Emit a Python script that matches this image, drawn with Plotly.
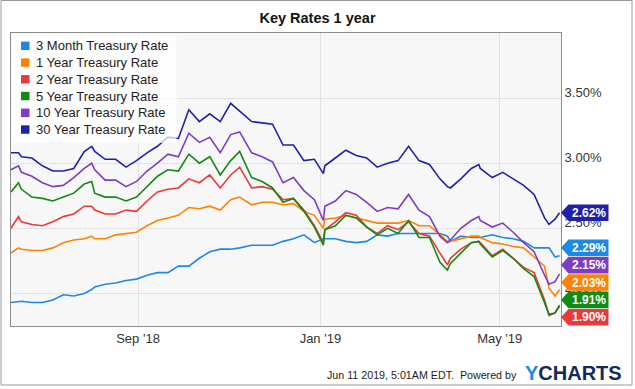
import plotly.graph_objects as go

# ---------------- data ----------------
dates = ["2018-06-08", "2018-06-13", "2018-06-15", "2018-06-22", "2018-06-29", "2018-07-06",
         "2018-07-13", "2018-07-20", "2018-07-27", "2018-08-01", "2018-08-03", "2018-08-10",
         "2018-08-17", "2018-08-24", "2018-08-31", "2018-09-07", "2018-09-14", "2018-09-21",
         "2018-09-28", "2018-10-05", "2018-10-12", "2018-10-19", "2018-10-26", "2018-11-02",
         "2018-11-08", "2018-11-16", "2018-11-23", "2018-11-30", "2018-12-07", "2018-12-14",
         "2018-12-21", "2018-12-28", "2019-01-03", "2019-01-04", "2019-01-11", "2019-01-18",
         "2019-01-25", "2019-02-01", "2019-02-08", "2019-02-15", "2019-02-22", "2019-03-01",
         "2019-03-08", "2019-03-15", "2019-03-22", "2019-03-27", "2019-03-29", "2019-04-05",
         "2019-04-12", "2019-04-17", "2019-04-18", "2019-04-26", "2019-05-03", "2019-05-10",
         "2019-05-17", "2019-05-24", "2019-05-31", "2019-06-03", "2019-06-07", "2019-06-10"]

rate_3m = [1.93, 1.94, 1.94, 1.93, 1.93, 1.95,
           1.99, 1.98, 2.00, 2.03, 2.05, 2.07,
           2.08, 2.10, 2.11, 2.14, 2.16, 2.16,
           2.21, 2.21, 2.27, 2.32, 2.34, 2.34,
           2.35, 2.37, 2.37, 2.37, 2.40, 2.42,
           2.45, 2.39, 2.42, 2.42, 2.42, 2.40,
           2.39, 2.40, 2.45, 2.44, 2.46, 2.46,
           2.46, 2.46, 2.46, 2.44, 2.40, 2.44,
           2.43, 2.43, 2.43, 2.45, 2.43, 2.42,
           2.40, 2.35, 2.35, 2.35, 2.28, 2.29]

rate_1y = [2.31, 2.35, 2.34, 2.33, 2.33, 2.35,
           2.39, 2.41, 2.42, 2.44, 2.42, 2.42,
           2.45, 2.46, 2.47, 2.52, 2.56, 2.58,
           2.60, 2.66, 2.65, 2.67, 2.64, 2.72,
           2.74, 2.68, 2.70, 2.70, 2.68, 2.69,
           2.63, 2.60, 2.50, 2.57, 2.58, 2.60,
           2.58, 2.56, 2.54, 2.54, 2.54, 2.56,
           2.52, 2.52, 2.45, 2.40, 2.40, 2.42,
           2.44, 2.44, 2.43, 2.39, 2.38, 2.36,
           2.35, 2.28, 2.21, 2.04, 1.98, 2.03]

rate_2y = [2.50, 2.59, 2.55, 2.53, 2.52, 2.55,
           2.59, 2.61, 2.67, 2.67, 2.64, 2.61,
           2.61, 2.64, 2.63, 2.71, 2.78, 2.80,
           2.81, 2.88, 2.85, 2.91, 2.81, 2.91,
           2.97, 2.81, 2.82, 2.80, 2.72, 2.73,
           2.64, 2.52, 2.39, 2.49, 2.55, 2.62,
           2.60, 2.51, 2.46, 2.52, 2.49, 2.55,
           2.46, 2.44, 2.31, 2.22, 2.27, 2.34,
           2.39, 2.40, 2.39, 2.29, 2.34, 2.27,
           2.20, 2.16, 1.95, 1.83, 1.85, 1.90]

rate_5y = [2.78, 2.85, 2.80, 2.74, 2.73, 2.71,
           2.74, 2.77, 2.84, 2.86, 2.77, 2.74,
           2.74, 2.71, 2.74, 2.82, 2.90, 2.95,
           2.94, 3.07, 3.00, 3.05, 2.91, 3.02,
           3.09, 2.89, 2.86, 2.81, 2.70, 2.73,
           2.63, 2.51, 2.37, 2.49, 2.52, 2.60,
           2.58, 2.51, 2.45, 2.50, 2.46, 2.56,
           2.43, 2.43, 2.24, 2.18, 2.23, 2.31,
           2.39, 2.40, 2.38, 2.28, 2.33, 2.27,
           2.19, 2.13, 1.93, 1.84, 1.85, 1.91]

rate_10y = [2.95, 2.98, 2.93, 2.90, 2.85, 2.82,
            2.83, 2.89, 2.96, 3.00, 2.95, 2.87,
            2.87, 2.82, 2.86, 2.94, 3.00, 3.07,
            3.05, 3.23, 3.16, 3.20, 3.08, 3.22,
            3.24, 3.08, 3.05, 3.01, 2.85, 2.89,
            2.79, 2.72, 2.56, 2.67, 2.71, 2.79,
            2.76, 2.70, 2.63, 2.66, 2.65, 2.76,
            2.64, 2.59, 2.44, 2.39, 2.41, 2.50,
            2.56, 2.59, 2.56, 2.51, 2.54, 2.47,
            2.39, 2.32, 2.14, 2.07, 2.09, 2.15]

rate_30y = [3.08, 3.08, 3.05, 3.04, 2.98, 2.94,
            2.94, 2.96, 3.09, 3.13, 3.09, 3.03,
            3.03, 2.97, 3.02, 3.08, 3.13, 3.20,
            3.19, 3.41, 3.32, 3.38, 3.32, 3.46,
            3.40, 3.32, 3.31, 3.30, 3.14, 3.14,
            3.02, 3.03, 2.92, 2.98, 3.04, 3.10,
            3.06, 3.04, 2.97, 3.00, 3.02, 3.13,
            3.02, 2.99, 2.88, 2.82, 2.81, 2.88,
            2.96, 2.99, 2.96, 2.89, 2.93, 2.88,
            2.83, 2.76, 2.58, 2.53, 2.57, 2.62]

series_names = ["3 Month Treasury Rate", "1 Year Treasury Rate", "2 Year Treasury Rate",
                "5 Year Treasury Rate", "10 Year Treasury Rate", "30 Year Treasury Rate"]
series_values = [rate_3m, rate_1y, rate_2y, rate_5y, rate_10y, rate_30y]
series_colors = ["#1e88e5", "#ff8200", "#e8393b", "#138a13", "#7e3dbf", "#2121a8"]

x_tick_vals = ["2018-09-01", "2019-01-01", "2019-05-01"]
x_tick_text = ["Sep '18", "Jan '19", "May '19"]
y_tick_vals = [2.0, 2.5, 3.0, 3.5]
y_tick_text = ["2.00%", "2.50%", "3.00%", "3.50%"]

title_text = "Key Rates 1 year"
footer_text = "Jun 11 2019, 5:01AM EDT.&nbsp;&nbsp;Powered by"

# ---------------- layout geometry ----------------
W, H = 635, 389
ML, MR, MT, MB = 11, 74, 33, 63
PW = W - ML - MR
PH = H - MT - MB
Y_MIN, Y_MAX = 1.75, 4.0
X_RANGE = ["2018-06-08", "2019-06-11"]
FONT = "Liberation Sans, Arial, Helvetica, sans-serif"


def fx(px):
    return (px - ML) / PW


def fy(py):
    return (H - MB - py) / PH


def val_to_py(v):
    return MT + (Y_MAX - v) / (Y_MAX - Y_MIN) * PH


def py_to_val(py):
    return Y_MAX - (py - MT) / PH * (Y_MAX - Y_MIN)


fig = go.Figure()
for name, vals, color in zip(series_names, series_values, series_colors):
    fig.add_trace(go.Scatter(x=dates, y=vals, mode="lines", name=name,
                             line=dict(color=color, width=1.6), showlegend=False))

shapes = []
annotations = []

# outer frame
shapes.append(dict(type="rect", xref="paper", yref="paper", x0=fx(1), x1=fx(632),
                   y0=fy(385), y1=fy(0.5), line=dict(color="#9a9a9a", width=1),
                   fillcolor="rgba(0,0,0,0)", layer="above"))

# legend (semi-transparent box, square swatches, labels)
shapes.append(dict(type="rect", xref="paper", yref="paper", x0=fx(11.5), x1=fx(176.5),
                   y0=fy(143), y1=fy(33.5), line=dict(width=0),
                   fillcolor="rgba(255,255,255,0.72)", layer="above"))
for i, (name, color) in enumerate(zip(series_names, series_colors)):
    cy = 45.8 + i * 16.75
    shapes.append(dict(type="rect", xref="paper", yref="paper", x0=fx(21), x1=fx(29.5),
                       y0=fy(cy + 4.2), y1=fy(cy - 4.2), line=dict(width=0),
                       fillcolor=color, layer="above"))
    annotations.append(dict(text=name, xref="paper", yref="paper", x=fx(33.5), y=fy(cy),
                            xanchor="left", yanchor="middle", showarrow=False,
                            font=dict(family=FONT, size=13, color="#222222")))

# end-of-line value tags, spread so they do not overlap
GAP = 17.4
order = sorted(range(len(series_values)), key=lambda k: -series_values[k][-1])
pos = [val_to_py(series_values[k][-1]) for k in order]
for i in range(1, len(pos)):
    pos[i] = max(pos[i], pos[i - 1] + GAP)
limit = MT + PH - GAP / 2
if pos[-1] > limit:
    pos[-1] = limit
    for i in range(len(pos) - 2, -1, -1):
        pos[i] = min(pos[i], pos[i + 1] - GAP)
for k, p in zip(order, pos):
    v = series_values[k][-1]
    yv = py_to_val(p)
    shapes.append(dict(type="path", xref="paper", yref="y", xsizemode="pixel", ysizemode="pixel",
                       xanchor=1, yanchor=yv,
                       path="M0,0 L7.5,8.3 L47.5,8.3 L47.5,-8.3 L7.5,-8.3 Z",
                       fillcolor=series_colors[k], line=dict(width=0), layer="above"))
    annotations.append(dict(text=f"<b>{v:.2f}%</b>", xref="paper", yref="y", x=1, y=yv,
                            xanchor="center", yanchor="middle", xshift=28, showarrow=False,
                            font=dict(family=FONT, size=12, color="white")))

# footer
annotations.append(dict(text=footer_text, xref="paper", yref="paper", x=fx(519), y=fy(375),
                        xanchor="right", yanchor="middle", showarrow=False,
                        font=dict(family=FONT, size=10.7, color="#222222")))
annotations.append(dict(text="<b><span style='color:#1e88e5'>Y</span>CHARTS</b>",
                        xref="paper", yref="paper", x=fx(523), y=fy(373),
                        xanchor="left", yanchor="middle", showarrow=False,
                        font=dict(family=FONT, size=20, color="#15295b")))

fig.update_layout(
    width=W, height=H,
    margin=dict(l=ML, r=MR, t=MT, b=MB, pad=0),
    paper_bgcolor="white", plot_bgcolor="#f7f7f7",
    showlegend=False,
    hovermode=False,
    title=dict(text=title_text, x=0.5, xanchor="center", xref="container",
               y=1 - 18 / H, yanchor="middle", yref="container",
               font=dict(family=FONT, size=14.5, color="#111111", weight="bold")),
    font=dict(family=FONT, size=13, color="#333333"),
    xaxis=dict(type="date", range=X_RANGE, tickvals=x_tick_vals, ticktext=x_tick_text,
               showgrid=True, gridcolor="#e2e2e2", gridwidth=1, zeroline=False,
               showline=True, linecolor="#8c8c8c", linewidth=1, mirror=True,
               ticks="", tickfont=dict(family=FONT, size=13, color="#333333")),
    yaxis=dict(side="right", range=[Y_MIN, Y_MAX], tickvals=y_tick_vals, ticktext=y_tick_text,
               showgrid=True, gridcolor="#e2e2e2", gridwidth=1, zeroline=False,
               showline=True, linecolor="#8c8c8c", linewidth=1, mirror=True,
               ticks="", ticklabelposition="outside", ticklabelshift=-6,
               tickfont=dict(family=FONT, size=13, color="#333333")),
    shapes=shapes,
    annotations=annotations,
)

fig.write_html("out.html", config={"displayModeBar": False},
               post_script="document.body.style.margin='0';document.body.style.overflow='hidden';")
